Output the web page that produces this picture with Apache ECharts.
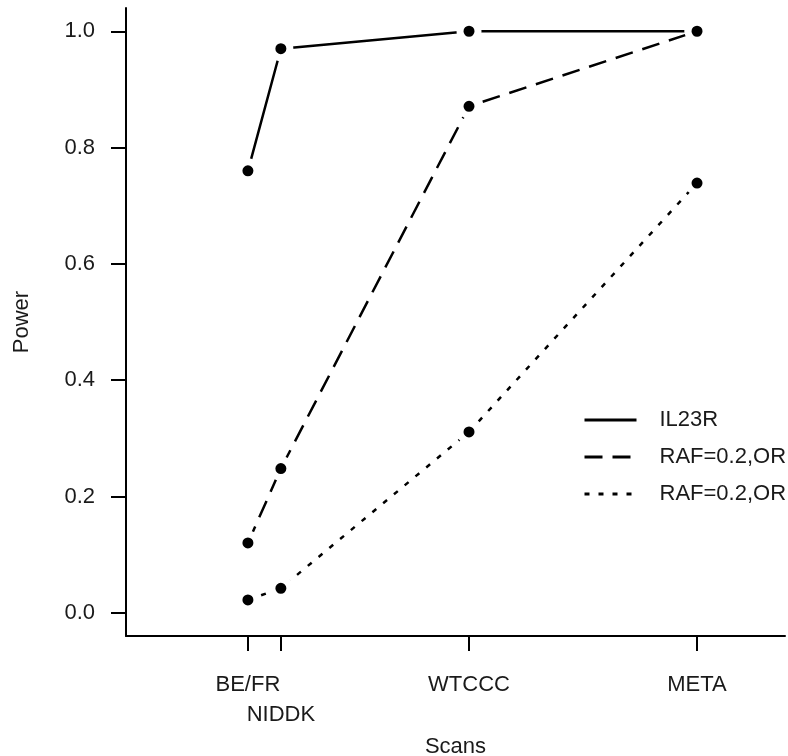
<!DOCTYPE html>
<html>
<head>
<meta charset="utf-8">
<script src="https://cdn.jsdelivr.net/npm/echarts@6/dist/echarts.min.js"></script>
<style>html,body{margin:0;padding:0;background:#fff}#c{width:788px;height:756px}</style>
</head>
<body>
<div id="c"></div>
<script>
// Scan categories and their positions along the x axis (axis runs 0..100)
const scans = ['BE/FR', 'NIDDK', 'WTCCC', 'META'];
const scanPos = [18.5, 23.5, 52.05, 86.65];
// scans whose label sits on the second line (to avoid overlap)
const secondLine = ['NIDDK'];
// Power values per series
const il23r = [0.76, 0.97, 1.0, 1.0];
const rafA = [0.12, 0.248, 0.871, 1.0];
const rafB = [0.022, 0.042, 0.311, 0.739];
const seriesNames = ['IL23R', 'RAF=0.2,OR', 'RAF=0.2,OR '];
const yTicks = [0, 0.2, 0.4, 0.6, 0.8, 1.0];

const FONT = 'Liberation Sans';
const TXT = '#1a1a1a';

function pts(vals) { return vals.map((v, i) => [scanPos[i], v]); }
const firstPos = scanPos.filter((p, i) => secondLine.indexOf(scans[i]) < 0);
const secondPos = scanPos.filter((p, i) => secondLine.indexOf(scans[i]) >= 0);
function scanLabel(v) {
  const i = scanPos.indexOf(v);
  return i < 0 ? '' : scans[i];
}

const dashes = ['solid', [18, 10], [5, 9]];
const data = [il23r, rafA, rafB];

const chart = echarts.init(document.getElementById('c'), null, {renderer: 'canvas'});
const baseLabel = {fontSize: 22, color: TXT, fontFamily: FONT, lineHeight: 24};
chart.setOption({
  animation: false,
  backgroundColor: '#fff',
  textStyle: {fontFamily: FONT},
  grid: {left: 126, right: 3, top: 8, bottom: 120, containLabel: false, outerBoundsMode: 'none'},
  xAxis: [{
    type: 'value', min: 0, max: 100,
    name: 'Scans', nameLocation: 'middle', nameGap: 100,
    nameTextStyle: {fontSize: 22, color: TXT, fontFamily: FONT, lineHeight: 22},
    axisLine: {show: true, onZero: false, lineStyle: {color: '#000', width: 2}},
    axisTick: {show: true, length: 15, customValues: scanPos, lineStyle: {color: '#000', width: 2}},
    axisLabel: Object.assign({customValues: firstPos, margin: 37, formatter: scanLabel}, baseLabel),
    splitLine: {show: false}
  }, {
    type: 'value', min: 0, max: 100, position: 'bottom', gridIndex: 0,
    axisLine: {show: false}, axisTick: {show: false},
    axisLabel: Object.assign({customValues: secondPos, margin: 67, formatter: scanLabel}, baseLabel),
    splitLine: {show: false}
  }],
  yAxis: {
    type: 'value', min: -0.04, max: 1.04,
    name: 'Power', nameLocation: 'middle', nameGap: 93, nameRotate: 90,
    nameTextStyle: {fontSize: 22, color: TXT, fontFamily: FONT, lineHeight: 22},
    axisLine: {show: true, onZero: false, lineStyle: {color: '#000', width: 2}},
    axisTick: {show: true, length: 15, customValues: yTicks, lineStyle: {color: '#000', width: 2}},
    axisLabel: {
      customValues: yTicks, margin: 31, fontSize: 22, color: TXT, fontFamily: FONT,
      formatter: v => v.toFixed(1)
    },
    splitLine: {show: false}
  },
  legend: {
    orient: 'vertical', left: 578, top: 404,
    itemWidth: 52, itemHeight: 14, itemGap: 15,
    itemStyle: {opacity: 0},
    lineStyle: {width: 3},
    textStyle: {fontSize: 22, color: TXT, fontFamily: FONT, padding: [0, 0, 0, 18]},
    data: seriesNames
  },
  series: data.map((d, k) => ({
    name: seriesNames[k],
    type: 'line',
    xAxisIndex: 0,
    data: pts(d),
    symbol: 'circle', symbolSize: 18,
    itemStyle: {color: '#000', borderColor: '#fff', borderWidth: 7},
    lineStyle: {color: '#000', width: 2.5, type: dashes[k]},
    z: 2 + k
  }))
});
</script>
</body>
</html>
